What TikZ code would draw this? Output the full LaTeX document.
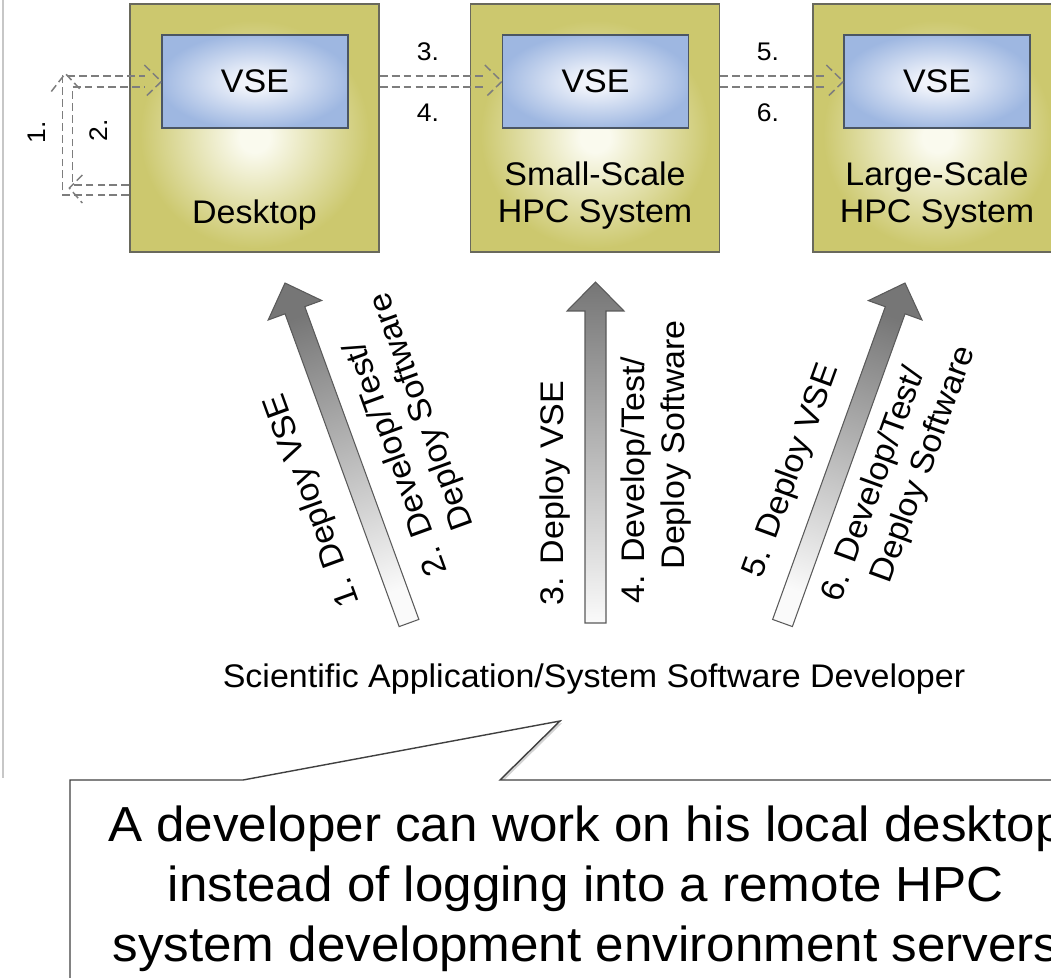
\documentclass[tikz,border=0pt]{standalone}
\usepackage{fontspec}
\setmainfont[FakeStretch=1.04]{Liberation Sans}
\usetikzlibrary{calc,shadows}

\definecolor{olivebox}{RGB}{204,200,110}
\definecolor{oliveglow}{RGB}{250,250,238}
\definecolor{vseedge}{RGB}{158,183,225}
\definecolor{vsecore}{RGB}{241,244,251}
\definecolor{boxline}{RGB}{105,105,92}
\definecolor{vseline}{RGB}{75,86,100}
\definecolor{flowgray}{RGB}{125,125,125}
\definecolor{arrowdark}{RGB}{118,118,118}
\definecolor{arrowlight}{RGB}{250,250,250}
\definecolor{arrowline}{RGB}{90,90,90}

% soft highlight just under the VSE panel of each host
\pgfdeclareradialshading{hostglow}{\pgfpoint{0bp}{-2bp}}{color(0bp)=(oliveglow); color(3bp)=(oliveglow); color(23bp)=(olivebox); color(60bp)=(olivebox)}
% soft highlight in the middle of each VSE panel
\pgfdeclareradialshading{vseglow}{\pgfpoint{0bp}{0bp}}{color(0bp)=(vsecore); color(4bp)=(vsecore); color(26bp)=(vseedge); color(60bp)=(vseedge)}

\tikzset{
  host/.style={draw=boxline, line width=0.8pt, shading=hostglow,
    minimum width=4.98cm, minimum height=4.96cm, inner sep=0pt},
  vse/.style={draw=vseline, line width=0.8pt, shading=vseglow,
    minimum width=3.72cm, minimum height=1.86cm, inner sep=0pt,
    font=\fontsize{18.6pt}{21.5pt}\selectfont},
  hostlabel/.style={inner sep=0pt, font=\fontsize{18.6pt}{21.5pt}\selectfont},
  steplabel/.style={inner sep=0pt, font=\fontsize{14.5pt}{17pt}\selectfont},
  flowlabel/.style={inner sep=0pt, font=\fontsize{18.6pt}{22.7pt}\selectfont},
  flowline/.style={draw=flowgray, line width=0.85pt, dash pattern=on 4.5pt off 2.3pt},
  bodyarrow/.style={draw=arrowline, line width=0.6pt, line join=miter},
  callout/.style={draw=black!75, line width=0.8pt, fill=white,
    drop shadow={opacity=0.35, shadow xshift=1.2pt, shadow yshift=-1.2pt}},
  notefont/.style={inner sep=0pt, font=\fontsize{28pt}{34pt}\selectfont}
}

% hollow dashed transfer arrow: two shaft lines and an open head
\newcommand{\hollowflow}[2]{%
  \draw[flowline] ($(#1)+(0,-5.5)$) -- ($(#2)+(-16,-5.5)$);
  \draw[flowline] ($(#1)+(0,5.5)$) -- ($(#2)+(-16,5.5)$);
  \draw[flowline] ($(#2)+(-17,-16.5)$) -- (#2) -- ($(#2)+(-17,16.5)$);}

% shaded block arrow from #1 (tail) to #2 (tip), shading turned by #3
\newcommand{\blockflow}[3]{%
  \coordinate (#1base) at ($(#2)!0.58cm!(#1)$);
  \path[bodyarrow, top color=arrowdark, bottom color=arrowlight, shading angle=#3]
    ($(#1)!0.21cm!90:(#2)$) -- ($(#1base)!0.21cm!90:(#2)$)
    -- ($(#1base)!0.57cm!90:(#2)$) -- (#2)
    -- ($(#1base)!0.57cm!-90:(#2)$) -- ($(#1base)!0.21cm!-90:(#2)$)
    -- ($(#1)!0.21cm!-90:(#2)$) -- cycle;}

\begin{document}
\begin{tikzpicture}[x=0.02cm, y=-0.02cm]
\useasboundingbox (0,0) rectangle (1051,977);
\clip (0,0) rectangle (1051,977);

% frame line on the left
\draw[color=black!22, line width=0.8pt] (3,0) -- (3,778);

% hosts and their virtual system environments
\node[host] (desk) at (254.5,128) {};
\node[host] (small) at (595,128) {};
\node[host] (large) at (937.5,128) {};
\node[vse] (vse1) at (255,81.5) {VSE};
\node[vse] (vse2) at (595.5,81.5) {VSE};
\node[vse] (vse3) at (937,81.5) {VSE};
\node[hostlabel, anchor=base] (deskname) at (254.5,223) {Desktop};
\node[hostlabel, anchor=south, align=center] (smallname) at (595,230) {Small-Scale\\HPC System};
\node[hostlabel, anchor=south, align=center] (largename) at (937,230) {Large-Scale\\HPC System};

% transfers between hosts
\coordinate (f34) at (desk.east |- vse2.west);
\coordinate (f56) at (small.east |- vse3.west);
\hollowflow{f34}{vse2.west}
\hollowflow{f56}{vse3.west}
\node[steplabel] (s3) at (428,52) {3.};
\node[steplabel] (s4) at (428,113) {4.};
\node[steplabel] (s5) at (768,52) {5.};
\node[steplabel] (s6) at (768,113) {6.};

% local loop on the desktop
\coordinate (loopin) at (desk.west |- 0,190);
\draw[flowline] ($(loopin)+(0,5)$) -| ($(vse1.west)+(-99,-5.5)$) -- ($(vse1.west)+(-16,-5.5)$);
\draw[flowline] ($(loopin)+(0,-5)$) -| ($(vse1.west)+(-89,5.5)$) -- ($(vse1.west)+(-16,5.5)$);
\draw[flowline] ($(vse1.west)+(-17,-16.5)$) -- (vse1.west) -- ($(vse1.west)+(-17,16.5)$);
\draw[flowline] ($(vse1.west)+(-110,10)$) -- ($(vse1.west)+(-96,-8)$) -- ($(vse1.west)+(-80,9)$);
\draw[flowline] ($(loopin)+(-47,-15)$) -- ($(loopin)+(-60,-2)$) -- ($(loopin)+(-47,13)$);
\node[steplabel, rotate=90] (s1) at (37,132) {1.};
\node[steplabel, rotate=90] (s2) at (99,130) {2.};

% developer actions
\coordinate (a1t) at (409,623);
\coordinate (a1h) at (285,283);
\coordinate (a2t) at (595.5,623);
\coordinate (a2h) at (595.5,282);
\coordinate (a3t) at (782.5,623);
\coordinate (a3h) at (905,283);
\blockflow{a1t}{a1h}{20}
\blockflow{a2t}{a2h}{0}
\blockflow{a3t}{a3h}{-20}

\node[flowlabel, rotate=110] (l1) at (313,500) {1. Deploy VSE};
\node[flowlabel, rotate=110, align=left] (l2) at (410,434) {2. Develop/Test/\\\hspace*{1.05em}Deploy Software};
\node[flowlabel, rotate=90] (l3) at (555,493) {3. Deploy VSE};
\node[flowlabel, rotate=90, align=left] (l4) at (656,462) {4. Develop/Test/\\\hspace*{1.05em}Deploy Software};
\node[flowlabel, rotate=70] (l5) at (792,471) {5. Deploy VSE};
\node[flowlabel, rotate=70, align=left] (l6) at (900,474) {6. Develop/Test/\\\hspace*{1.05em}Deploy Software};

\node[flowlabel, anchor=base] (dev) at (594,687) {Scientific Application/System Software Developer};

% speech bubble
\coordinate (tailtip) at (560,721);
\path[callout] (70,1000) -- (70,780) -- (243,780) -- (tailtip) -- (500,780) -- (1100,780) -- (1100,1000) -- cycle;
\node[notefont, align=center] (note) at (586,889) {A developer can work on his local desktop\\instead of logging into a remote HPC\\system development environment servers};
\end{tikzpicture}
\end{document}
